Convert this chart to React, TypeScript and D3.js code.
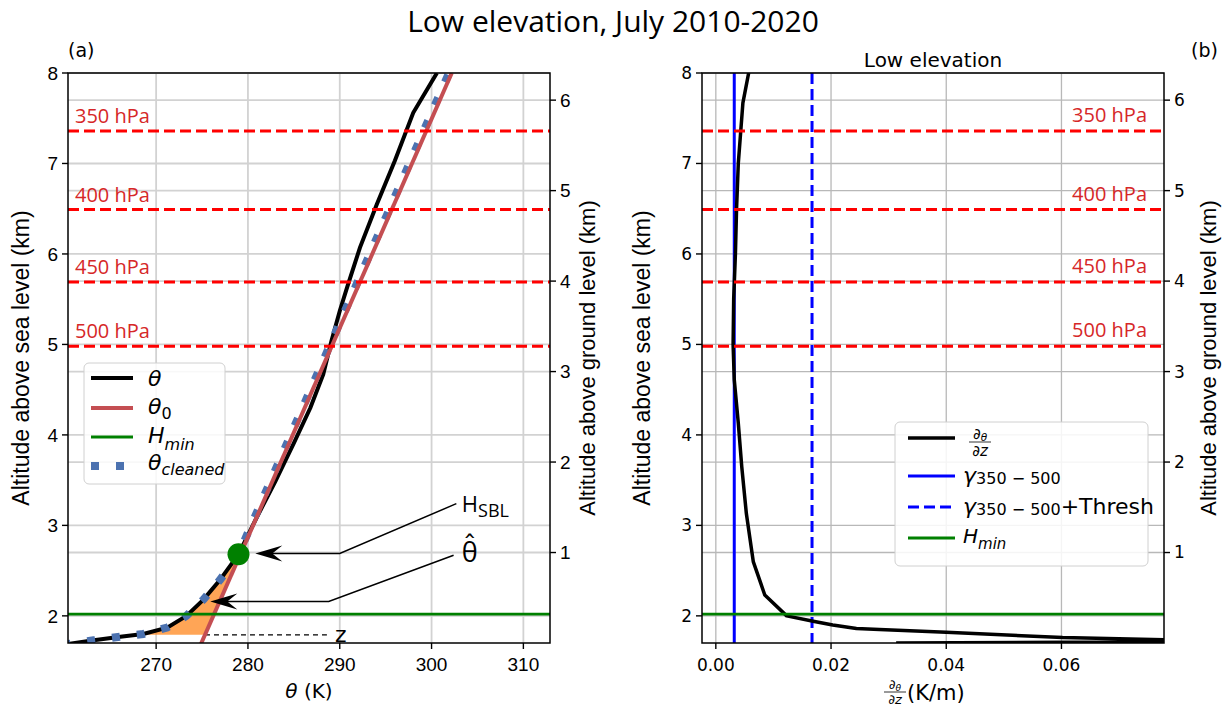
import * as d3 from "d3";

// altitude axis (km above sea level) and the ground level of the site
const groundAlt = 1.7;
const altTop = 8;
const aslTicks = [2, 3, 4, 5, 6, 7, 8];
const aglTicks = [1, 2, 3, 4, 5, 6];
const thetaTicks = [270, 280, 290, 300, 310];
const gradTicks = [0, 0.02, 0.04, 0.06];

const pressureLabels = ["350 hPa", "400 hPa", "450 hPa", "500 hPa"];
const pressureAlt = [7.36, 6.49, 5.69, 4.98];

// panel (a): potential temperature profile
const thetaAlt = [1.68, 1.73, 1.77, 1.8, 1.87, 2.0, 2.18, 2.4, 2.68, 3.09, 3.49, 3.9, 4.3, 4.67, 5.04, 5.37, 5.63, 6.07, 6.55, 7.03, 7.56, 8.0];
const thetaVal = [259.8, 263.2, 266.1, 268.6, 271.2, 273.3, 275.15, 276.97, 278.97, 280.97, 283.0, 284.96, 286.8, 288.2, 289.1, 290.0, 290.8, 292.2, 294.04, 296.0, 298.0, 300.58];
const theta0Alt = [1.67, 8.0];
const theta0Val = [274.8, 302.2];
const cleanedAlt = [1.68, 1.73, 1.77, 1.8, 1.87, 2.0, 2.18, 2.4, 2.68, 8.0];
const cleanedVal = [259.8, 263.2, 266.1, 268.6, 271.2, 273.3, 275.15, 276.97, 278.97, 301.9];
const hMin = 2.02;
const hSbl = 2.68;
const hSblTheta = 278.97;
const zLevel = 1.79;
const zLineEnd = 288.6;
// annotation anchors [theta, alt]: tip, elbow, end of leader, label
const hsblArrow = [[280.8, 2.69], [290.0, 2.69], [302.7, 3.24], [303.3, 3.15]];
const hatArrow = [[275.9, 2.16], [288.8, 2.16], [302.4, 2.67], [303.3, 2.6]];

// panel (b): vertical gradient of theta
const gradAlt = [8.0, 7.67, 7.0, 6.5, 6.0, 5.5, 5.0, 4.61, 4.13, 3.65, 3.13, 2.6, 2.23, 2.0, 1.94, 1.9, 1.86, 1.85, 1.82, 1.76, 1.735, 1.72, 1.7];
const gradVal = [0.0057, 0.0047, 0.0039, 0.0036, 0.0034, 0.0031, 0.003, 0.0032, 0.0039, 0.0045, 0.0053, 0.0065, 0.0085, 0.0123, 0.0169, 0.0203, 0.0244, 0.0284, 0.04, 0.0602, 0.0782, 0.095, 0.0313];
const gamma = 0.0032;
const gammaThresh = 0.0167;

const DJ = "DejaVu Sans, sans-serif";
const LIB = "Liberation Sans, Arial, sans-serif";
const OS = "Open Sans, sans-serif";

function Frac({ x, y, size }: { x: number; y: number; size: number }) {
    return (
        <g fontFamily={DJ} fontSize={size} textAnchor="middle">
            <text x={x} y={y - 3}>
                ∂<tspan fontSize={size * 0.7} fontStyle="italic" dy={2}>θ</tspan>
            </text>
            <line x1={x - 11} x2={x + 11} y1={y} y2={y} stroke="#000" strokeWidth={0.8} />
            <text x={x} y={y + size * 0.9}>
                ∂<tspan fontStyle="italic">z</tspan>
            </text>
        </g>
    );
}

function Arrow({ pts, x, y }: { pts: number[][]; x: (v: number) => number; y: (v: number) => number }) {
    const [tip, elbow, end] = pts.map((p) => [x(p[0]), y(p[1])]);
    return (
        <g>
            <path
                d={`M${tip[0] + 16},${tip[1]}L${elbow[0]},${elbow[1]}L${end[0]},${end[1]}`}
                fill="none"
                stroke="#000"
                strokeWidth={1.5}
            />
            <path d={`M${tip[0]},${tip[1]}l27,-8l-10,8l10,8z`} fill="#000" />
        </g>
    );
}

export default function App() {
    const W = 1226;
    const H = 718;
    const A = { l: 68, r: 550, t: 73, b: 643 };
    const B = { l: 702, r: 1164, t: 73, b: 643 };

    const y = d3.scaleLinear().domain([groundAlt, altTop]).range([A.b, A.t]);
    const yAgl = (v: number) => y(v + groundAlt);
    const xA = d3.scaleLinear().domain([260.4, 312.9]).range([A.l, A.r]);
    const xB = d3.scaleLinear().domain([-0.0024, 0.0778]).range([B.l, B.r]);
    const thetaAt = d3.scaleLinear().domain(thetaAlt).range(thetaVal);
    const theta0At = d3.scaleLinear().domain(theta0Alt).range(theta0Val);

    const lineA = d3.line<number[]>().x((d) => xA(d[0])).y((d) => y(d[1]));
    const lineB = d3.line<number[]>().x((d) => xB(d[0])).y((d) => y(d[1]));

    const fillAlts = [zLevel, ...thetaAlt.filter((a) => a > zLevel && a < hSbl), hSbl];
    const fillArea = d3
        .area<number>()
        .y((a) => y(a))
        .x0((a) => xA(thetaAt(a)))
        .x1((a) => xA(theta0At(a)))(fillAlts);

    const gridA = "#d2d2d2";
    const gridB = "#b8b8b8";

    return (
        <svg
            width={W}
            height={H}
            style={{ position: "absolute", left: 0, top: 0, background: "#fff" }}
        >
            <defs>
                <clipPath id="clipA">
                    <rect x={A.l} y={A.t} width={A.r - A.l} height={A.b - A.t} />
                </clipPath>
                <clipPath id="clipB">
                    <rect x={B.l} y={B.t} width={B.r - B.l} height={B.b - B.t} />
                </clipPath>
            </defs>

            <text x={W / 2} y={32} textAnchor="middle" fontFamily={OS} fontSize={30}>
                Low elevation, July 2010-2020
            </text>

            {/* ---------- panel (a) ---------- */}
            <text x={A.l} y={57} fontFamily={DJ} fontSize={19}>(a)</text>
            <g stroke={gridA} strokeWidth={1.8}>
                {thetaTicks.map((t) => (
                    <line key={t} x1={xA(t)} x2={xA(t)} y1={A.t} y2={A.b} />
                ))}
                {aslTicks.map((t) => (
                    <line key={"s" + t} x1={A.l} x2={A.r} y1={y(t)} y2={y(t)} />
                ))}
                {aglTicks.map((t) => (
                    <line key={"g" + t} x1={A.l} x2={A.r} y1={yAgl(t)} y2={yAgl(t)} />
                ))}
            </g>

            <g clipPath="url(#clipA)">
                <path d={fillArea ?? ""} fill="#ff7f0e" fillOpacity={0.7} />
                <line
                    x1={xA(theta0At(zLevel))}
                    x2={xA(zLineEnd)}
                    y1={y(zLevel)}
                    y2={y(zLevel)}
                    stroke="#000"
                    strokeWidth={1.2}
                    strokeDasharray="5,4"
                />
                <path d={lineA(d3.zip(thetaVal, thetaAlt)) ?? ""} fill="none" stroke="#000" strokeWidth={4} />
                <path
                    d={lineA(d3.zip(cleanedVal, cleanedAlt)) ?? ""}
                    fill="none"
                    stroke="#4c72b0"
                    strokeWidth={8}
                    strokeDasharray="8,17"
                />
                <path d={lineA(d3.zip(theta0Val, theta0Alt)) ?? ""} fill="none" stroke="#c44e52" strokeWidth={4} />
                <line x1={A.l} x2={A.r} y1={y(hMin)} y2={y(hMin)} stroke="#008000" strokeWidth={2.8} />
                {pressureAlt.map((p) => (
                    <line key={p} x1={A.l} x2={A.r} y1={y(p)} y2={y(p)} stroke="#ff0000" strokeWidth={3} strokeDasharray="11,5" />
                ))}
                <circle cx={xA(hSblTheta)} cy={y(hSbl)} r={11} fill="#008000" />
            </g>
            {pressureAlt.map((p, i) => (
                <text key={p} x={A.l + 7} y={y(p) - 8} fill="#d62728" fontFamily={OS} fontSize={20}>
                    {pressureLabels[i]}
                </text>
            ))}

            <Arrow pts={hsblArrow} x={xA} y={y} />
            <Arrow pts={hatArrow} x={xA} y={y} />
            <text x={xA(hsblArrow[3][0])} y={y(hsblArrow[3][1])} fontFamily={OS} fontSize={22}>
                H<tspan fontSize={18} dy={5}>SBL</tspan>
            </text>
            <text
                x={xA(hatArrow[3][0])}
                y={y(hatArrow[3][1])}
                fontFamily="Open Sans, DejaVu Sans, sans-serif"
                fontSize={27}
            >
                θ̂
            </text>
            <text x={xA(zLineEnd) + 8} y={y(zLevel) + 7} fontFamily={DJ} fontSize={22}>z</text>

            {/* legend (a) */}
            <g>
                <rect x={84} y={363} width={141} height={121} rx={5} fill="#fff" fillOpacity={0.85} stroke="#d0d0d0" />
                <line x1={91} x2={133} y1={378} y2={378} stroke="#000" strokeWidth={4} />
                <line x1={91} x2={133} y1={408} y2={408} stroke="#c44e52" strokeWidth={4} />
                <line x1={91} x2={133} y1={437} y2={437} stroke="#008000" strokeWidth={2.8} />
                <line x1={91} x2={133} y1={466} y2={466} stroke="#4c72b0" strokeWidth={8} strokeDasharray="8,17" />
                <g fontFamily={DJ} fontSize={22} fontStyle="italic">
                    <text x={148} y={386}>θ</text>
                    <text x={148} y={414}>
                        θ<tspan fontSize={16} fontStyle="normal" dy={5}>0</tspan>
                    </text>
                    <text x={148} y={443}>
                        H<tspan fontSize={16} dy={7}>min</tspan>
                    </text>
                    <text x={148} y={470}>
                        θ<tspan fontSize={16} dy={5}>cleaned</tspan>
                    </text>
                </g>
            </g>

            {/* axes (a) */}
            <rect x={A.l} y={A.t} width={A.r - A.l} height={A.b - A.t} fill="none" stroke="#000" strokeWidth={1.5} />
            <g fontFamily={LIB} fontSize={19}>
                {aslTicks.map((t) => (
                    <g key={t}>
                        <line x1={A.l - 6} x2={A.l} y1={y(t)} y2={y(t)} stroke="#000" strokeWidth={1.4} />
                        <text x={A.l - 10} y={y(t)} dy="0.35em" textAnchor="end">{t}</text>
                    </g>
                ))}
                {aglTicks.map((t) => (
                    <g key={t}>
                        <line x1={A.r} x2={A.r + 6} y1={yAgl(t)} y2={yAgl(t)} stroke="#000" strokeWidth={1.4} />
                        <text x={A.r + 10} y={yAgl(t)} dy="0.35em">{t}</text>
                    </g>
                ))}
                {thetaTicks.map((t) => (
                    <g key={t}>
                        <line x1={xA(t)} x2={xA(t)} y1={A.b} y2={A.b + 6} stroke="#000" strokeWidth={1.4} />
                        <text x={xA(t)} y={A.b + 28} textAnchor="middle">{t}</text>
                    </g>
                ))}
            </g>
            <text
                transform={`translate(29,${(A.t + A.b) / 2}) rotate(-90)`}
                textAnchor="middle"
                fontFamily={LIB}
                fontSize={23}
            >
                Altitude above sea level (km)
            </text>
            <text
                transform={`translate(${A.r + 45},${(A.t + A.b) / 2}) rotate(-90)`}
                textAnchor="middle"
                fontFamily={LIB}
                fontSize={22}
            >
                Altitude above ground level (km)
            </text>
            <text x={(A.l + A.r) / 2} y={698} textAnchor="middle" fontFamily={DJ} fontSize={20}>
                <tspan fontStyle="italic">θ</tspan> (K)
            </text>

            {/* ---------- panel (b) ---------- */}
            <text x={(B.l + B.r) / 2} y={67} textAnchor="middle" fontFamily={DJ} fontSize={20}>Low elevation</text>
            <text x={1218} y={57} textAnchor="end" fontFamily={DJ} fontSize={19}>(b)</text>
            <g stroke={gridB} strokeWidth={1.3}>
                {gradTicks.map((t) => (
                    <line key={t} x1={xB(t)} x2={xB(t)} y1={B.t} y2={B.b} />
                ))}
                {aslTicks.map((t) => (
                    <line key={"s" + t} x1={B.l} x2={B.r} y1={y(t)} y2={y(t)} />
                ))}
                {aglTicks.map((t) => (
                    <line key={"g" + t} x1={B.l} x2={B.r} y1={yAgl(t)} y2={yAgl(t)} />
                ))}
            </g>
            <g clipPath="url(#clipB)">
                <line x1={xB(gamma)} x2={xB(gamma)} y1={B.t} y2={B.b} stroke="#0000ff" strokeWidth={3} />
                <line x1={xB(gammaThresh)} x2={xB(gammaThresh)} y1={B.t} y2={B.b} stroke="#0000ff" strokeWidth={3} strokeDasharray="11,5" />
                <path d={lineB(d3.zip(gradVal, gradAlt)) ?? ""} fill="none" stroke="#000" strokeWidth={3.5} strokeLinejoin="round" />
                <line x1={B.l} x2={B.r} y1={y(hMin)} y2={y(hMin)} stroke="#008000" strokeWidth={2.8} />
                {pressureAlt.map((p) => (
                    <line key={p} x1={B.l} x2={B.r} y1={y(p)} y2={y(p)} stroke="#ff0000" strokeWidth={3} strokeDasharray="11,5" />
                ))}
            </g>
            {pressureAlt.map((p, i) => (
                <text key={p} x={B.r - 17} y={y(p) - 9} textAnchor="end" fill="#d62728" fontFamily={OS} fontSize={20}>
                    {pressureLabels[i]}
                </text>
            ))}

            {/* legend (b) */}
            <g>
                <rect x={895} y={422} width={253} height={144} rx={5} fill="#fff" fillOpacity={0.85} stroke="#d0d0d0" />
                <line x1={908} x2={955} y1={438} y2={438} stroke="#000" strokeWidth={3.5} />
                <line x1={908} x2={955} y1={476} y2={476} stroke="#0000ff" strokeWidth={3} />
                <line x1={908} x2={955} y1={507} y2={507} stroke="#0000ff" strokeWidth={3} strokeDasharray="11,5" />
                <line x1={908} x2={955} y1={538} y2={538} stroke="#008000" strokeWidth={2.8} />
                <Frac x={980} y={442} size={15} />
                <text x={963} y={483} fontFamily={DJ} fontSize={22}>
                    <tspan fontStyle="italic">γ</tspan>
                    <tspan fontSize={16} dy={1}>350 − 500</tspan>
                </text>
                <text x={963} y={514} fontFamily={DJ} fontSize={22}>
                    <tspan fontStyle="italic">γ</tspan>
                    <tspan fontSize={16} dy={1}>350 − 500</tspan>
                    <tspan dy={-1}>+Thresh</tspan>
                </text>
                <text x={963} y={543} fontFamily={DJ} fontSize={20} fontStyle="italic">
                    H<tspan fontSize={15} dy={6}>min</tspan>
                </text>
            </g>

            {/* axes (b) */}
            <rect x={B.l} y={B.t} width={B.r - B.l} height={B.b - B.t} fill="none" stroke="#000" strokeWidth={1.5} />
            <g fontFamily={DJ} fontSize={17}>
                {aslTicks.map((t) => (
                    <g key={t}>
                        <line x1={B.l - 6} x2={B.l} y1={y(t)} y2={y(t)} stroke="#000" strokeWidth={1.4} />
                        <text x={B.l - 10} y={y(t)} dy="0.35em" textAnchor="end">{t}</text>
                    </g>
                ))}
                {aglTicks.map((t) => (
                    <g key={t}>
                        <line x1={B.r} x2={B.r + 6} y1={yAgl(t)} y2={yAgl(t)} stroke="#000" strokeWidth={1.4} />
                        <text x={B.r + 10} y={yAgl(t)} dy="0.35em">{t}</text>
                    </g>
                ))}
                {gradTicks.map((t) => (
                    <g key={t}>
                        <line x1={xB(t)} x2={xB(t)} y1={B.b} y2={B.b + 6} stroke="#000" strokeWidth={1.4} />
                        <text x={xB(t)} y={B.b + 28} textAnchor="middle">{d3.format(".2f")(t)}</text>
                    </g>
                ))}
            </g>
            <text
                transform={`translate(${B.l - 52},${(B.t + B.b) / 2}) rotate(-90)`}
                textAnchor="middle"
                fontFamily={LIB}
                fontSize={23}
            >
                Altitude above sea level (km)
            </text>
            <text
                transform={`translate(${B.r + 52},${(B.t + B.b) / 2}) rotate(-90)`}
                textAnchor="middle"
                fontFamily={LIB}
                fontSize={22}
            >
                Altitude above ground level (km)
            </text>
            <Frac x={895} y={692} size={13} />
            <text x={907} y={700} fontFamily={DJ} fontSize={21}>(K/m)</text>
        </svg>
    );
}
